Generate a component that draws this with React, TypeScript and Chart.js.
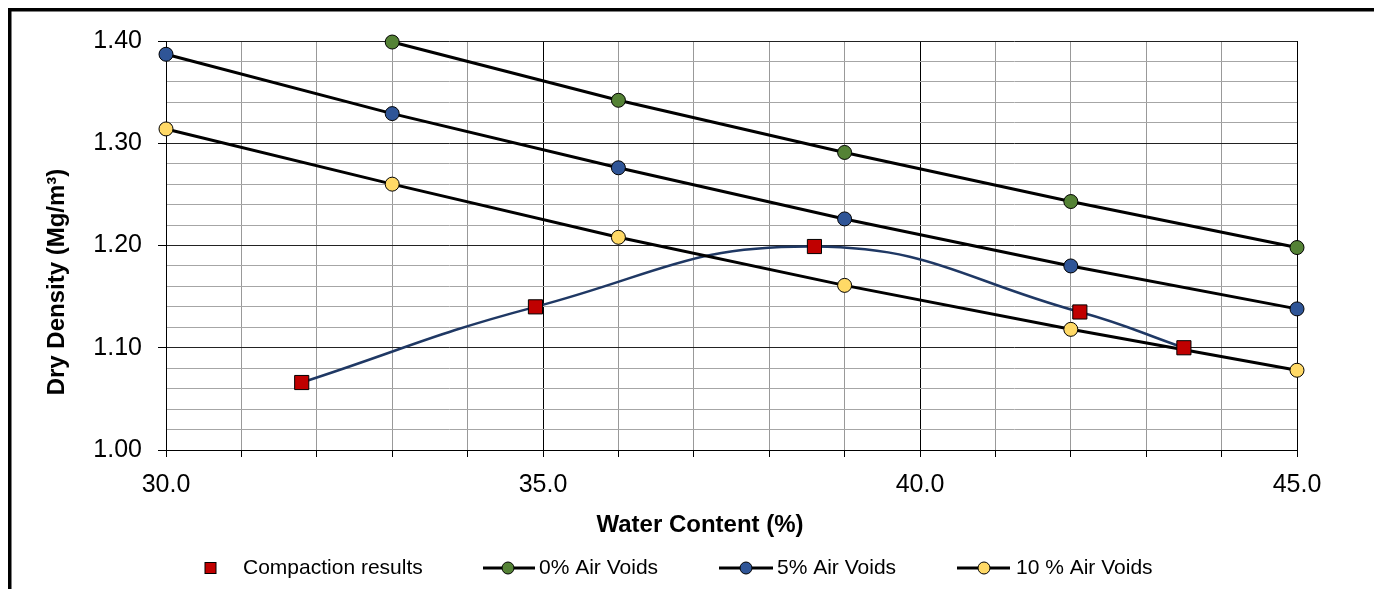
import React, { useEffect, useRef } from "react";
import { Chart, registerables } from "chart.js";
Chart.register(...registerables);

// ---- data ----
const xAxisTitle = "Water Content (%)";
const yAxisTitle = "Dry Density (Mg/m³)";
const seriesLabels = ["Compaction results", "0% Air Voids", "5% Air Voids", "10 % Air Voids"];

const compactionWater = [31.8, 34.9, 38.6, 42.12, 43.5];
const compactionDensity = [1.066, 1.14, 1.199, 1.135, 1.1];

const airVoidWater0 = [33, 36, 39, 42, 45];
const airVoid0 = [1.399, 1.342, 1.291, 1.243, 1.198];

const airVoidWater = [30, 33, 36, 39, 42, 45];
const airVoid5 = [1.387, 1.329, 1.276, 1.226, 1.18, 1.138];
const airVoid10 = [1.314, 1.26, 1.208, 1.161, 1.118, 1.078];

const xMin = 30;
const xMax = 45;
const xStep = 1;
const xLabelEvery = 5;
const yMin = 1.0;
const yMax = 1.4;
const yStep = 0.02;
const yLabelEvery = 0.1;

const colors = {
  compaction: "#C00000",
  curve: "#1F3864",
  v0: "#548235",
  v5: "#2F5597",
  v10: "#FFD966",
};

const FONT = '"Liberation Sans", Arial, sans-serif';

function pts(xs: number[], ys: number[]) {
  return xs.map((x, i) => ({ x, y: ys[i] }));
}

const overlayPlugin = {
  id: "overlay",
  beforeDraw(chart: any) {
    const ctx = chart.ctx;
    ctx.save();
    ctx.fillStyle = "#fff";
    ctx.fillRect(0, 0, chart.width, chart.height);
    ctx.restore();
  },
  afterDraw(chart: any) {
    const ctx = chart.ctx;
    ctx.save();
    // outer frame (top and left visible)
    ctx.fillStyle = "#000";
    ctx.fillRect(8, 8, chart.width - 8, 3.5);
    ctx.fillRect(8, 8, 3.5, chart.height - 8);

    // axis titles
    ctx.fillStyle = "#000";
    ctx.font = `bold 24px ${FONT}`;
    ctx.textAlign = "center";
    ctx.textBaseline = "middle";
    ctx.fillText(xAxisTitle, 700, 525);
    ctx.save();
    ctx.translate(57, 282);
    ctx.rotate(-Math.PI / 2);
    ctx.fillText(yAxisTitle, 0, 0);
    ctx.restore();

    // legend
    const ly = 568;
    ctx.font = `21px ${FONT}`;
    ctx.textAlign = "left";
    ctx.textBaseline = "middle";
    ctx.fillStyle = colors.compaction;
    ctx.strokeStyle = "#000";
    ctx.lineWidth = 1;
    ctx.fillRect(205, ly - 5.5, 11, 11);
    ctx.strokeRect(205, ly - 5.5, 11, 11);
    ctx.fillStyle = "#000";
    ctx.fillText(seriesLabels[0], 243, ly);

    const lineItems = [
      { x0: 483, x1: 535, cx: 508, tx: 539, c: colors.v0, label: seriesLabels[1] },
      { x0: 719, x1: 773, cx: 746, tx: 777, c: colors.v5, label: seriesLabels[2] },
      { x0: 957, x1: 1010, cx: 984, tx: 1016, c: colors.v10, label: seriesLabels[3] },
    ];
    for (const it of lineItems) {
      ctx.strokeStyle = "#000";
      ctx.lineWidth = 3;
      ctx.beginPath();
      ctx.moveTo(it.x0, ly);
      ctx.lineTo(it.x1, ly);
      ctx.stroke();
      ctx.beginPath();
      ctx.arc(it.cx, ly, 6, 0, Math.PI * 2);
      ctx.fillStyle = it.c;
      ctx.fill();
      ctx.lineWidth = 1;
      ctx.strokeStyle = "#000";
      ctx.stroke();
      ctx.fillStyle = "#000";
      ctx.fillText(it.label, it.tx, ly);
    }
    ctx.restore();
  },
};

export default function App() {
  const ref = useRef<HTMLCanvasElement | null>(null);
  useEffect(() => {
    if (!ref.current) return;
    const isMajorY = (v: number) => Math.round(v * 100) % Math.round(yLabelEvery * 100) === 0;
    const isMajorX = (v: number) => Math.round(v) % xLabelEvery === 0;
    const circle = (c: string) => ({
      pointStyle: "circle" as const,
      pointRadius: 7,
      pointHoverRadius: 7,
      pointBackgroundColor: c,
      pointBorderColor: "#000",
      pointBorderWidth: 1,
      borderColor: "#000",
      borderWidth: 3,
      showLine: true,
      tension: 0,
      clip: false as const,
    });
    const chart = new Chart(ref.current, {
      type: "scatter",
      data: {
        datasets: [
          {
            label: seriesLabels[0],
            data: pts(compactionWater, compactionDensity),
            pointStyle: "rect",
            pointRadius: 10,
            pointHoverRadius: 10,
            pointBackgroundColor: colors.compaction,
            pointBorderColor: "#000",
            pointBorderWidth: 1,
            showLine: false,
            clip: false,
          },
          { label: seriesLabels[1], data: pts(airVoidWater0, airVoid0), ...circle(colors.v0) },
          { label: seriesLabels[2], data: pts(airVoidWater, airVoid5), ...circle(colors.v5) },
          { label: seriesLabels[3], data: pts(airVoidWater, airVoid10), ...circle(colors.v10) },
          {
            label: "curve",
            data: pts(compactionWater, compactionDensity),
            showLine: true,
            pointRadius: 0,
            borderColor: colors.curve,
            borderWidth: 2.5,
            tension: 0.45,
            clip: false,
          },
        ],
      },
      options: {
        responsive: false,
        animation: false,
        events: [],
        layout: { padding: { left: 0, top: 41, right: 77, bottom: 0 } },
        plugins: { legend: { display: false }, tooltip: { enabled: false } },
        scales: {
          x: {
            type: "linear",
            min: xMin,
            max: xMax,
            afterFit: (s: any) => {
              s.height = 139;
            },
            ticks: {
              stepSize: xStep,
              autoSkip: false,
              maxRotation: 0,
              padding: 13,
              color: "#000",
              font: { family: FONT, size: 25 },
              callback: (v: any) => (isMajorX(Number(v)) ? Number(v).toFixed(1) : ""),
            },
            grid: {
              color: (c: any) => (isMajorX(c.tick.value) ? "#000" : "#999"),
              lineWidth: 1,
              tickLength: 7,
              tickColor: "#000",
            },
            border: { color: "#000", width: 1 },
          },
          y: {
            type: "linear",
            min: yMin,
            max: yMax,
            afterFit: (s: any) => {
              s.width = 166;
            },
            ticks: {
              stepSize: yStep,
              autoSkip: false,
              padding: 16,
              color: "#000",
              font: { family: FONT, size: 25 },
              callback: (v: any) => (isMajorY(Number(v)) ? Number(v).toFixed(2) : ""),
            },
            grid: {
              color: (c: any) => (isMajorY(c.tick.value) ? "#222" : "#a6a6a6"),
              lineWidth: 1,
              tickLength: 8,
              tickColor: (c: any) => (isMajorY(c.tick.value) ? "#000" : "rgba(0,0,0,0)"),
            },
            border: { color: "#000", width: 1 },
          },
        },
      },
      plugins: [overlayPlugin],
    } as any);
    return () => chart.destroy();
  }, []);
  return (
    <div style={{ position: "fixed", left: 0, top: 0, width: 1374, height: 589, background: "#fff" }}>
      <canvas ref={ref} width={1374} height={589} style={{ width: 1374, height: 589, display: "block" }} />
    </div>
  );
}
